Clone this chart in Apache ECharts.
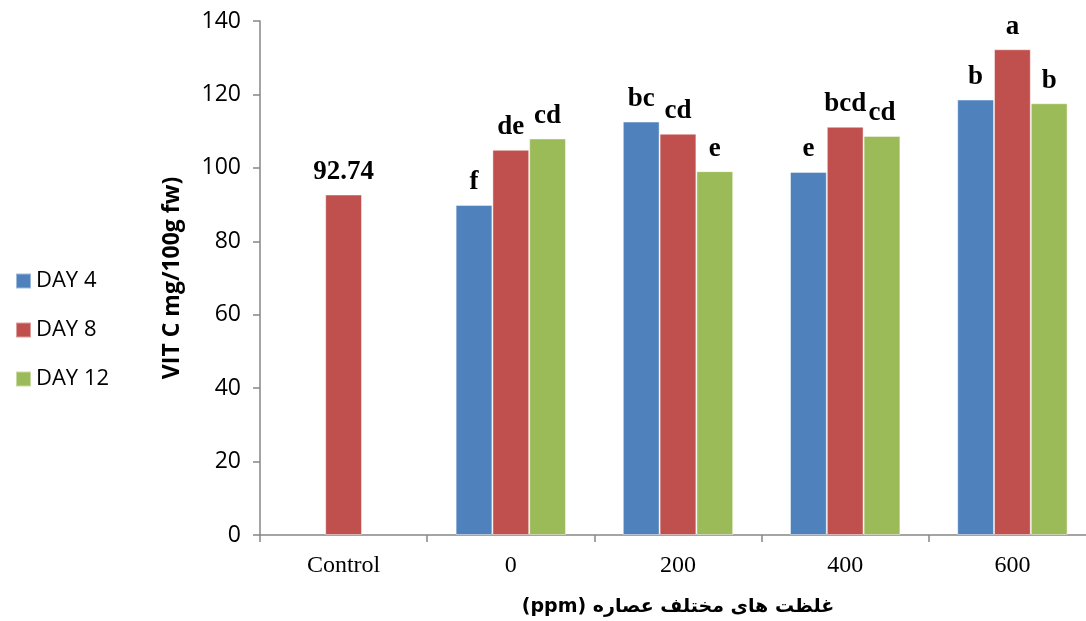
<!DOCTYPE html>
<html>
<head>
<meta charset="utf-8">
<script src="https://cdn.jsdelivr.net/npm/echarts@6/dist/echarts.min.js"></script>
<style>
  html, body { margin: 0; padding: 0; background: #fff; }
  #chart { width: 1086px; height: 621px; }
</style>
</head>
<body>
<div id="chart"></div>
<script>
    let categories = ['Control', '0', '200', '400', '600']
    let day4 = [null, 89.9, 112.6, 98.9, 118.6]
    let day8 = [92.74, 104.9, 109.3, 111.2, 132.3]
    let day12 = [null, 108.0, 99.1, 108.7, 117.6]
    let day4Letters = ['', 'f', 'bc', 'e', 'b']
    let day8Letters = ['92.74', 'de', 'cd', 'bcd', 'a']
    let day12Letters = ['', 'cd', 'e', 'cd', 'b']
    let yTicks = [0, 20, 40, 60, 80, 100, 120, 140]

    let axisGray = '#868686'

    function makeSeries(name, data, letters, color) {
        return {
            name: name,
            type: 'bar',
            data: data,
            barGap: 0,
            barCategoryGap: '34%',
            itemStyle: { color: color, borderColor: 'rgba(255,255,255,0.45)', borderWidth: 1 },
            label: {
                show: true,
                position: 'top',
                distance: 9,
                fontFamily: 'Liberation Serif',
                fontWeight: 'bold',
                fontSize: 27,
                color: '#000',
                formatter: function (p) { return letters[p.dataIndex] }
            }
        }
    }

    var myChart = echarts.init(document.getElementById('chart'))

    var option = {
        animation: false,
        legend: {
            orient: 'vertical',
            left: 10,
            top: 265,
            itemWidth: 15,
            itemHeight: 15,
            itemGap: 27,
            icon: 'rect',
            textStyle: { fontFamily: 'Open Sans', fontSize: 22, color: '#000' },
            data: ['DAY 4', 'DAY 8', 'DAY 12']
        },
        grid: { left: 260, right: -10, top: 21, bottom: 86, outerBoundsMode: 'none', containLabel: false },
        xAxis: {
            type: 'category',
            data: categories,
            name: '\u202Bغلظت های مختلف عصاره (ppm)\u202C',
            nameLocation: 'middle',
            nameGap: 63,
            nameTextStyle: { fontFamily: 'DejaVu Sans', fontWeight: 'bold', fontSize: 19, color: '#000' },
            axisLine: { lineStyle: { color: axisGray, width: 1.5 } },
            axisTick: { show: true, length: 7, lineStyle: { color: axisGray, width: 1.5 } },
            axisLabel: { fontFamily: 'Liberation Serif', fontSize: 24, color: '#000', margin: 19 }
        },
        yAxis: {
            type: 'value',
            min: yTicks[0],
            max: yTicks[yTicks.length - 1],
            interval: 20,
            name: 'VIT C mg/100g fw)',
            nameLocation: 'middle',
            nameGap: 76,
            nameTextStyle: { fontFamily: 'Open Sans', fontWeight: 'bold', fontSize: 23, color: '#000' },
            splitLine: { show: false },
            axisLine: { show: true, lineStyle: { color: axisGray, width: 1.5 } },
            axisTick: { show: true, length: 7, lineStyle: { color: axisGray, width: 1.5 } },
            axisLabel: { fontFamily: 'Open Sans', fontSize: 23, color: '#000', margin: 19 }
        },
        series: [
            makeSeries('DAY 4', day4, day4Letters, '#4F81BD'),
            makeSeries('DAY 8', day8, day8Letters, '#C0504D'),
            makeSeries('DAY 12', day12, day12Letters, '#9BBB59')
        ]
    }

    myChart.setOption(option)
</script>
</body>
</html>
